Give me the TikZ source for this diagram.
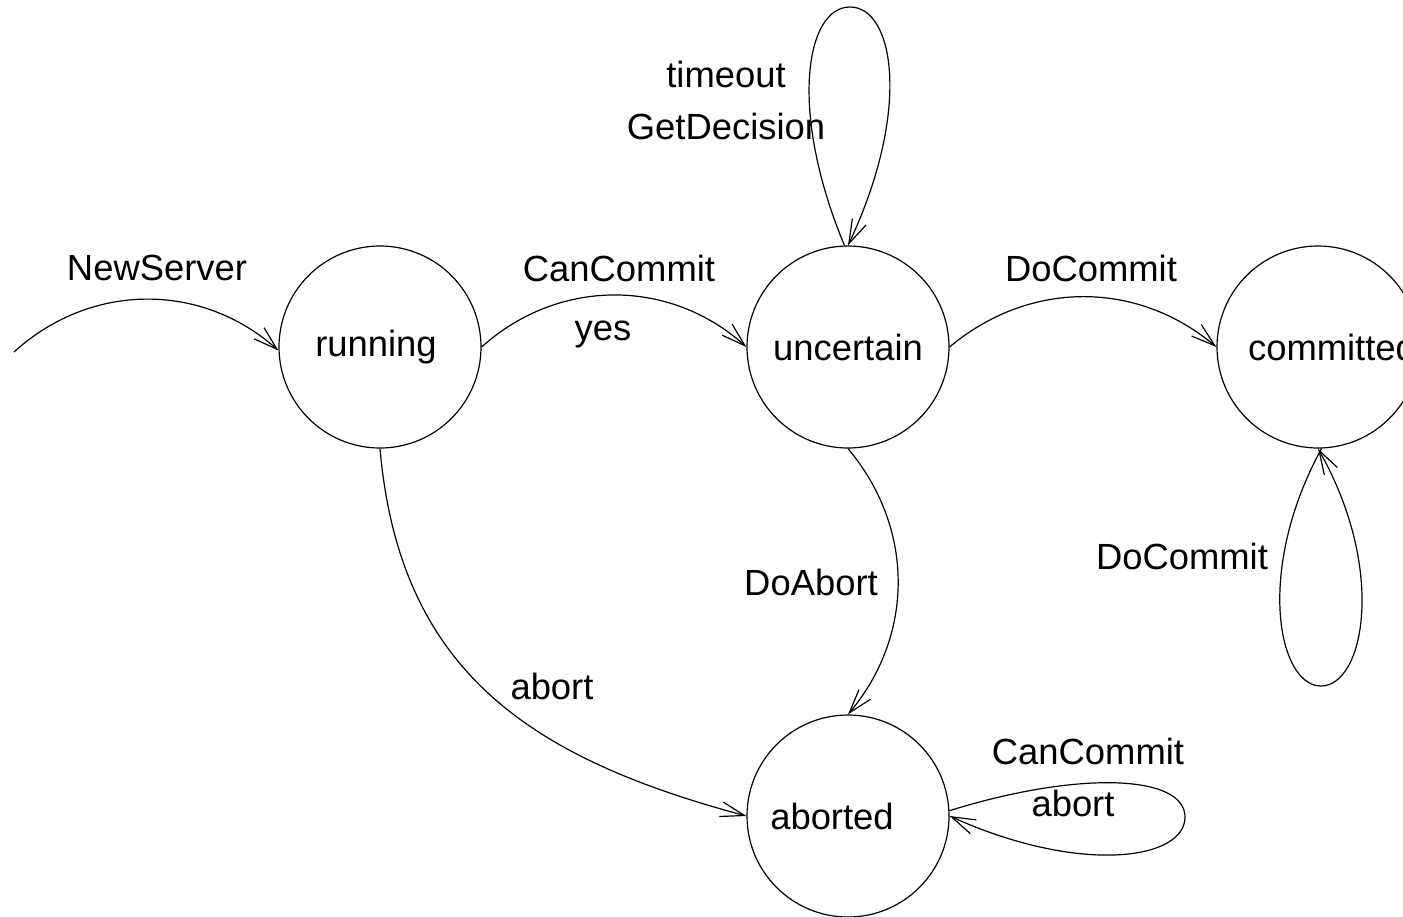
\documentclass[tikz,border=0pt]{standalone}
\usepackage{fontspec}
\setmainfont{Liberation Sans}
\usetikzlibrary{arrows.meta}

\begin{document}
\begin{tikzpicture}[x=0.5pt,y=0.5pt,
  stcirc/.style={draw, circle, line width=0.6pt, minimum size=101pt, inner sep=0pt, font=\fontsize{18.2}{22}\selectfont},
  move/.style={line width=0.6pt, -{Straight Barb[length=12pt,width=7.5pt,line width=0.6pt]}},
  tag/.style={inner sep=0pt, font=\fontsize{18.2}{22}\selectfont}]

\useasboundingbox (0,0) rectangle (1403,-916);
\clip (0,0) rectangle (1403,-916);

\node[stcirc] (running) at (380,-347) {running\hspace*{4pt}};
\node[stcirc] (uncertain) at (848,-347) {uncertain};
\node[stcirc] (committed) at (1318,-347) {\hspace*{14pt}committed};
\node[stcirc] (aborted) at (848,-816) {aborted\hspace*{16pt}};

\coordinate (start) at (14,-352);

\draw[move] (start) to[bend left=42] (running.182);
\draw[move] (running.east) to[bend left=42] (uncertain.west);
\draw[move] (uncertain.east) to[bend left=40] (committed.west);
\draw[move] (uncertain.south) to[bend left=40] (aborted.north);
\draw[move] (running.south) to[out=-85, in=165, looseness=1.1] (aborted.west);

% self loops
\draw[move] (uncertain.92) .. controls (788,-110) and (806,-7) .. (850,-7)
  .. controls (894,-7) and (912,-110) .. (uncertain.north);
\draw[move] (committed.272) .. controls (1255,-570) and (1278,-686) .. (1321,-686)
  .. controls (1364,-686) and (1387,-570) .. (committed.south);
\draw[move] (aborted.3) .. controls (1080,-770) and (1185,-775) .. (1185,-817)
  .. controls (1185,-860) and (1080,-875) .. (aborted.east);

\node[tag] (l-new) at (157,-268) {NewServer};
\node[tag] (l-can) at (619,-268) {CanCommit};
\node[tag] (l-yes) at (603,-334) {yes};
\node[tag] (l-docommit) at (1091,-268) {DoCommit};
\node[tag] (l-timeout) at (726,-74) {timeout};
\node[tag] (l-getdec) at (726,-126) {GetDecision};
\node[tag] (l-doabort) at (811,-582) {DoAbort};
\node[tag] (l-abort) at (552,-686) {abort};
\node[tag] (l-docommit2) at (1182,-556) {DoCommit};
\node[tag] (l-can2) at (1088,-751) {CanCommit};
\node[tag] (l-abort2) at (1073,-803) {abort};

\end{tikzpicture}
\end{document}
